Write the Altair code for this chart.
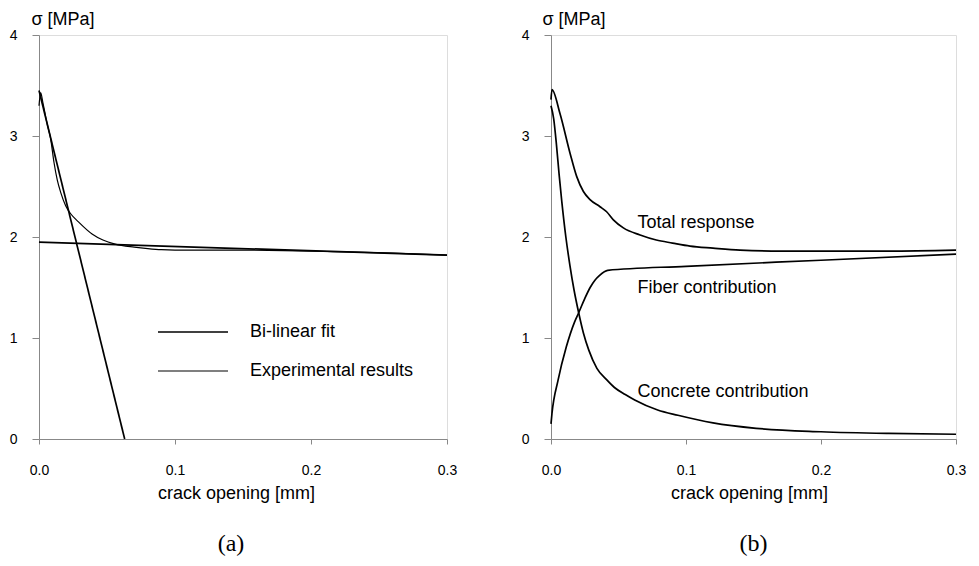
import altair as alt
import pandas as pd

# ---------------- data: panel (a) ----------------
exp_x = [0.0, 0.0012, 0.003, 0.006, 0.0086, 0.011, 0.0135, 0.016, 0.0196, 0.0233, 0.029, 0.039,
         0.047, 0.056, 0.07, 0.08, 0.09, 0.11, 0.142, 0.18, 0.216, 0.26, 0.3]
exp_y = [3.30, 3.43, 3.32, 3.12, 2.97, 2.74, 2.56, 2.44, 2.31, 2.23, 2.15, 2.03,
         1.97, 1.93, 1.90, 1.885, 1.875, 1.87, 1.87, 1.865, 1.855, 1.84, 1.82]

bl1_x = [0.0, 0.063]
bl1_y = [3.45, 0.0]
bl2_x = [0.0, 0.3]
bl2_y = [1.95, 1.82]

series_a = ["Bi-linear fit", "Experimental results"]

# ---------------- data: panel (b) ----------------
total_x = [0.0, 0.0007, 0.0067, 0.0141, 0.019, 0.024, 0.0289, 0.0363, 0.0412, 0.0462,
           0.0536, 0.066, 0.078, 0.09, 0.103, 0.12, 0.14, 0.17, 0.2, 0.25, 0.3]
total_y = [3.36, 3.46, 3.22, 2.83, 2.60, 2.45, 2.37, 2.30, 2.25, 2.17,
           2.09, 2.02, 1.97, 1.94, 1.91, 1.89, 1.87, 1.86, 1.86, 1.86, 1.87]

fiber_x = [0.0, 0.0007, 0.0052, 0.0113, 0.0175, 0.0205, 0.025, 0.029, 0.0324, 0.036, 0.042,
           0.1, 0.2, 0.3]
fiber_y = [0.15, 0.25, 0.58, 0.91, 1.16, 1.25, 1.39, 1.50, 1.57, 1.62, 1.67,
           1.71, 1.77, 1.83]

concrete_x = [0.0, 0.002, 0.004, 0.006, 0.008, 0.011, 0.014, 0.017, 0.0205, 0.024, 0.028,
              0.034, 0.041, 0.047, 0.055, 0.062, 0.079, 0.094, 0.12, 0.152, 0.2, 0.25, 0.3]
concrete_y = [3.30, 3.17, 2.92, 2.62, 2.35, 2.00, 1.72, 1.48, 1.25, 1.05, 0.88,
              0.70, 0.59, 0.51, 0.44, 0.386, 0.287, 0.235, 0.16, 0.106, 0.072, 0.055, 0.047]

label_text = ["Total response", "Fiber contribution", "Concrete contribution"]
label_x = [0.064, 0.064, 0.064]
label_y = [2.14, 1.50, 0.47]

x_ticks = [0.0, 0.1, 0.2, 0.3]
y_ticks = [0, 1, 2, 3, 4]

FONT = "Liberation Sans"

# ---------------- build tables ----------------
rows_a = []
for i, (x, y) in enumerate(zip(bl1_x, bl1_y)):
    rows_a.append(dict(x=x, y=y, series=series_a[0], seg="b1", i=i))
for i, (x, y) in enumerate(zip(bl2_x, bl2_y)):
    rows_a.append(dict(x=x, y=y, series=series_a[0], seg="b2", i=i))
for i, (x, y) in enumerate(zip(exp_x, exp_y)):
    rows_a.append(dict(x=x, y=y, series=series_a[1], seg="e", i=i))
df_a = pd.DataFrame(rows_a)

rows_b = []
for name, xs, ys in [("total", total_x, total_y), ("fiber", fiber_x, fiber_y),
                     ("concrete", concrete_x, concrete_y)]:
    for i, (x, y) in enumerate(zip(xs, ys)):
        rows_b.append(dict(x=x, y=y, series=name, i=i))
df_b = pd.DataFrame(rows_b)
df_lab = pd.DataFrame(dict(text=label_text, x=label_x, y=label_y))


def x_enc(tx):
    return alt.X("x:Q", scale=alt.Scale(domain=[0, 0.3], nice=False, zero=False),
                 axis=alt.Axis(values=x_ticks, format=".1f", title="crack opening [mm]",
                               grid=False, tickSize=5, labelPadding=19, labelFontSize=14,
                               labelFlush=False, titleFontSize=18, titlePadding=7,
                               titleX=tx, labelFont=FONT, titleFont=FONT,
                               titleFontWeight="normal"))


def y_enc(tx):
    return alt.Y("y:Q", scale=alt.Scale(domain=[0, 4], nice=False),
                 axis=alt.Axis(values=y_ticks, format="d", title="σ [MPa]", grid=False,
                               tickSize=7, labelPadding=15, labelFontSize=14,
                               labelFlush=False, titleFontSize=18, titleAngle=0,
                               titleAlign="left", titleBaseline="alphabetic", titleX=tx,
                               titleY=-11, labelFont=FONT, titleFont=FONT,
                               titleFontWeight="normal"))


lines_a = alt.Chart(df_a).mark_line(interpolate="monotone").encode(
    x=x_enc(197),
    y=y_enc(-8),
    detail="seg:N",
    order="i:Q",
    color=alt.Color("series:N",
                    scale=alt.Scale(domain=series_a, range=["black", "black"]),
                    legend=alt.Legend(title=None, orient="none", legendX=145, legendY=288,
                                      symbolType="M-10,0H10", symbolSize=49,
                                      symbolStrokeWidth=1.4, labelFontSize=18,
                                      labelFont=FONT, labelOffset=48, rowPadding=21,
                                      labelLimit=400, labelColor="black")),
    strokeWidth=alt.StrokeWidth("series:N",
                                scale=alt.Scale(domain=series_a, range=[1.7, 1.2]),
                                legend=None),
)

panel_a = alt.layer(lines_a).properties(
    width=408, height=404,
    title=alt.TitleParams("(a)", orient="bottom", font="Liberation Serif", fontSize=24,
                          fontWeight="normal", offset=30, dx=-12, color="black"))

lines_b = alt.Chart(df_b).mark_line(interpolate="monotone", color="black",
                                    strokeWidth=1.7).encode(
    x=x_enc(198),
    y=y_enc(-9),
    detail="series:N",
    order="i:Q",
)
text_b = alt.Chart(df_lab).mark_text(align="left", baseline="middle", font=FONT,
                                     fontSize=18, color="black").encode(
    x="x:Q", y="y:Q", text="text:N")

panel_b = alt.layer(lines_b, text_b).properties(
    width=405, height=404,
    title=alt.TitleParams("(b)", orient="bottom", font="Liberation Serif", fontSize=24,
                          fontWeight="normal", offset=30, color="black"))

chart = alt.hconcat(panel_a, panel_b, spacing=62).properties(
    padding={"left": 8, "top": 9, "right": 5, "bottom": 5}
).configure_view(stroke="black", strokeWidth=1.2).configure_axis(
    domainColor="black", tickColor="black", labelColor="black", titleColor="black",
    domainWidth=1.2, tickWidth=1.2
).configure(background="white")

chart.save("out.html", embed_options={"renderer": "svg", "actions": False})
